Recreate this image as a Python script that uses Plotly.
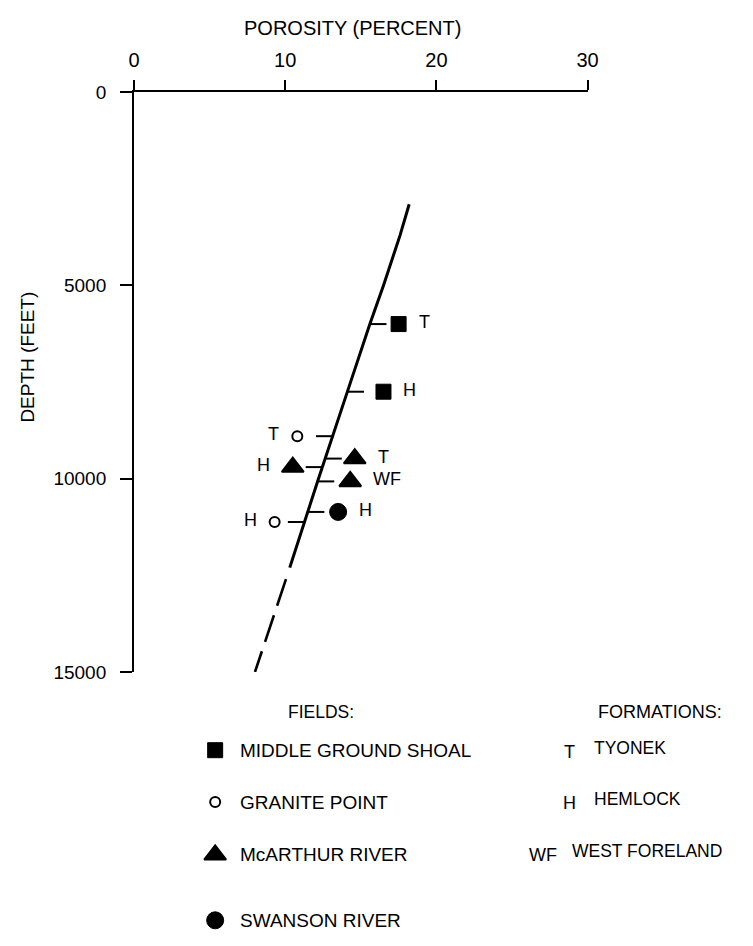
import numpy as np
import plotly.graph_objects as go

W, H = 753, 946

# ---------------- data ----------------
porosity_ticks = [0, 10, 20, 30]
depth_ticks = [0, 5000, 10000, 15000]
depth_tick_text = ["0", "5000", "10000", "15000"]

# trend line (solid part) and its dashed extrapolation
trend_depth = [2900, 3700, 5000, 6000, 8000, 10000, 12300]
trend_porosity = [18.2, 17.6, 16.5, 15.6, 13.9, 12.2, 10.3]
extrap_depth = [12600, 15000]
extrap_porosity = [10.05, 8.0]

# measured samples
sample_field = ["MIDDLE GROUND SHOAL", "MIDDLE GROUND SHOAL", "GRANITE POINT",
                "McARTHUR RIVER", "McARTHUR RIVER", "McARTHUR RIVER",
                "SWANSON RIVER", "GRANITE POINT"]
sample_formation = ["T", "H", "T", "T", "H", "WF", "H", "H"]
sample_porosity = [17.5, 16.5, 10.8, 14.6, 10.5, 14.3, 13.5, 9.3]
sample_depth = [6000, 7750, 8900, 9480, 9700, 10070, 10860, 11120]

field_names = ["MIDDLE GROUND SHOAL", "GRANITE POINT", "McARTHUR RIVER", "SWANSON RIVER"]
formation_codes = ["T", "H", "WF"]
formation_names = ["TYONEK", "HEMLOCK", "WEST FORELAND"]

# ---------------- styles ----------------
FONT = "Liberation Sans, Arial, Helvetica, sans-serif"
FIELD_STYLE = {
    "MIDDLE GROUND SHOAL": dict(symbol="square", size=15, color="black",
                                line=dict(color="black", width=1), half=8),
    "GRANITE POINT": dict(symbol="circle-open", size=10, color="black",
                          line=dict(color="black", width=2), half=6),
    "McARTHUR RIVER": dict(symbol="triangle-up", size=19, color="black",
                           line=dict(color="black", width=2), half=11),
    "SWANSON RIVER": dict(symbol="circle", size=17, color="black",
                          line=dict(color="black", width=1), half=9),
}
TICK_LEN = 1.1  # porosity units of the little connector ticks on the trend line

# plot-area placement in pixels
X0, X1 = 131, 595
Y0, Y1 = 84, 677

fig = go.Figure()

# trend line
fig.add_trace(go.Scatter(x=trend_porosity, y=trend_depth, mode="lines",
                         line=dict(color="black", width=3),
                         hoverinfo="skip", showlegend=False))
fig.add_trace(go.Scatter(x=extrap_porosity, y=extrap_depth, mode="lines",
                         line=dict(color="black", width=2.6, dash="28px,10px"),
                         hoverinfo="skip", showlegend=False))

# connector ticks from the trend line toward each sample
line_at = np.interp(sample_depth, trend_depth, trend_porosity)
side = np.sign(np.array(sample_porosity) - line_at)
tx, ty = [], []
for lx, s, d in zip(line_at, side, sample_depth):
    tx += [lx, lx + s * TICK_LEN, None]
    ty += [d, d, None]
fig.add_trace(go.Scatter(x=tx, y=ty, mode="lines", line=dict(color="black", width=2),
                         hoverinfo="skip", showlegend=False))

# sample markers per field
for f in field_names:
    idx = [i for i, v in enumerate(sample_field) if v == f]
    st = FIELD_STYLE[f]
    fig.add_trace(go.Scatter(
        x=[sample_porosity[i] for i in idx], y=[sample_depth[i] for i in idx],
        mode="markers", name=f, showlegend=False,
        marker=dict(symbol=st["symbol"], size=st["size"], color=st["color"], line=st["line"]),
    ))

annotations = []
# formation labels next to samples
for i in range(len(sample_depth)):
    st = FIELD_STYLE[sample_field[i]]
    s = side[i]
    annotations.append(dict(
        x=sample_porosity[i], y=sample_depth[i], xref="x", yref="y",
        text=sample_formation[i], showarrow=False,
        xanchor="left" if s > 0 else "right", yanchor="middle",
        xshift=s * (st["half"] + 10), yshift=2,
        font=dict(family=FONT, size=18, color="black"),
    ))

# axis titles (pixel coordinates on the overlay axes)
annotations.append(dict(x=355, y=18, xref="x2", yref="y2", text="POROSITY (PERCENT)",
                        showarrow=False, xanchor="center", yanchor="middle",
                        font=dict(family=FONT, size=20, color="black")))
annotations.append(dict(x=22, y=355, xref="x2", yref="y2", text="DEPTH (FEET)",
                        showarrow=False, xanchor="center", yanchor="middle", textangle=-90,
                        font=dict(family=FONT, size=19, color="black")))

# ---- key ----
annotations.append(dict(x=322, y=718, xref="x2", yref="y2", text="FIELDS:", showarrow=False,
                        xanchor="center", yanchor="middle",
                        font=dict(family=FONT, size=17.5, color="black")))
annotations.append(dict(x=669, y=718, xref="x2", yref="y2", text="FORMATIONS:", showarrow=False,
                        xanchor="center", yanchor="middle",
                        font=dict(family=FONT, size=18, color="black")))

field_key_y = [757, 810, 864, 931]
for f, yk in zip(field_names, field_key_y):
    st = FIELD_STYLE[f]
    fig.add_trace(go.Scatter(x=[214], y=[yk], xaxis="x2", yaxis="y2", mode="markers",
                             showlegend=False, hoverinfo="skip",
                             marker=dict(symbol=st["symbol"], size=st["size"],
                                         color=st["color"], line=st["line"])))
    annotations.append(dict(x=237, y=yk, xref="x2", yref="y2", text=f, showarrow=False,
                            xanchor="left", yanchor="middle",
                            font=dict(family=FONT, size=19, color="black")))

form_key_y = [755, 807, 860]
form_code_x = [576, 576, 549]
form_name_x = [600, 600, 577]
for c, n, yk, cx, nx in zip(formation_codes, formation_names, form_key_y, form_code_x, form_name_x):
    annotations.append(dict(x=cx, y=yk + 4, xref="x2", yref="y2", text=c, showarrow=False,
                            xanchor="center", yanchor="middle",
                            font=dict(family=FONT, size=18, color="black")))
    annotations.append(dict(x=nx, y=yk, xref="x2", yref="y2", text=n, showarrow=False,
                            xanchor="left", yanchor="middle",
                            font=dict(family=FONT, size=17.5, color="black")))

fig.update_layout(
    width=W, height=H,
    margin=dict(l=0, r=0, t=0, b=0, pad=0),
    paper_bgcolor="white", plot_bgcolor="rgba(0,0,0,0)",
    showlegend=False,
    annotations=annotations,
    xaxis=dict(domain=[X0 / W, X1 / W], range=[0, 30], side="top",
               tickvals=porosity_ticks, ticks="outside", ticklen=10, tickwidth=2,
               tickcolor="black", showline=True, linewidth=2, linecolor="black",
               showgrid=False, zeroline=False, ticklabelstandoff=5,
               tickfont=dict(family=FONT, size=20, color="black"), anchor="y"),
    yaxis=dict(domain=[1 - Y1 / H, 1 - Y0 / H], range=[15000, 0],
               tickvals=depth_ticks, ticktext=depth_tick_text, ticks="outside", ticklen=12,
               tickwidth=2, tickcolor="black", showline=True, linewidth=2, linecolor="black",
               showgrid=False, zeroline=False, ticklabelstandoff=10,
               tickfont=dict(family=FONT, size=19, color="black"), anchor="x"),
    xaxis2=dict(domain=[0, 1], range=[0, W], visible=False, anchor="y2", fixedrange=True),
    yaxis2=dict(domain=[0, 1], range=[H, 0], visible=False, anchor="x2", fixedrange=True),
)

fig.write_html(
    "out.html",
    config={"displayModeBar": False},
    post_script="document.body.style.margin='0';"
                "document.body.style.overflow='hidden';"
                "document.documentElement.style.overflow='hidden';",
)
